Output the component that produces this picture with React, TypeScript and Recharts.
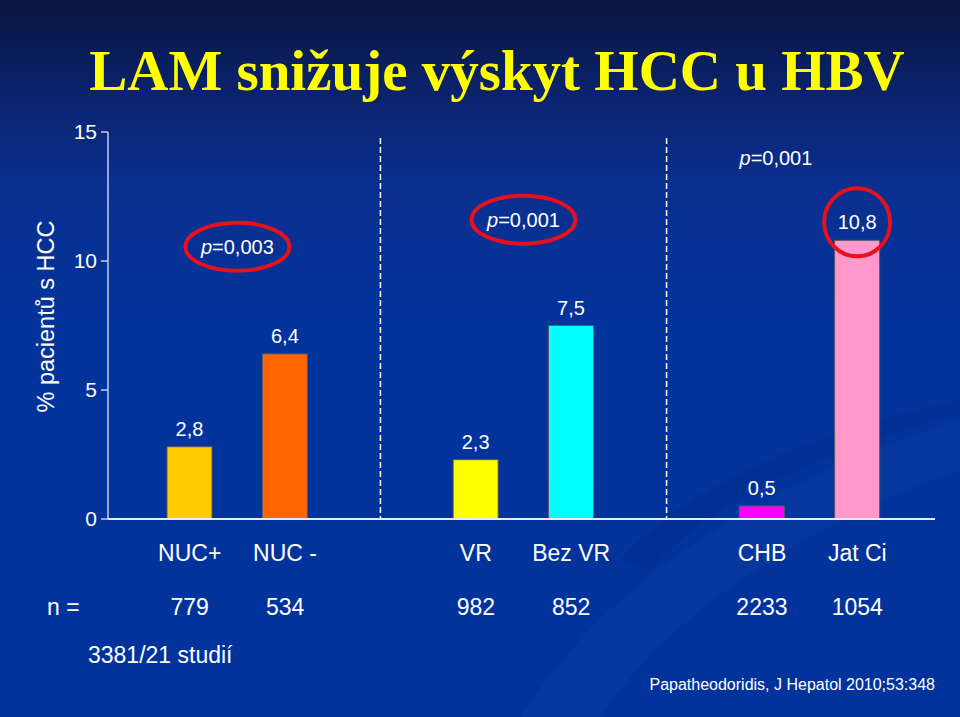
import React from "react";
import { BarChart, Bar, XAxis, YAxis, Cell, LabelList, ReferenceLine, ReferenceArea } from "recharts";

const categories = ["NUC+", "NUC -", "VR", "Bez VR", "CHB", "Jat Ci"];
const incidence = [2.8, 6.4, 2.3, 7.5, 0.5, 10.8];
const patients = [779, 534, 982, 852, 2233, 1054];
const barColors = ["#ffcc00", "#ff6600", "#ffff00", "#00ffff", "#ff00ff", "#ff99cc"];
const circledValue = [false, false, false, false, false, true];
const groups = [[0, 1], [2, 3], [4, 5]];
const yTicks = [0, 5, 10, 15];
const pValues = [
  { from: "NUC+", to: "NUC -", y: 10.55, text: "=0,003", ring: true },
  { from: "VR", to: "Bez VR", y: 11.6, text: "=0,001", ring: true },
  { from: "CHB", to: "CHB", y: 14.0, text: "=0,001", ring: false },
];

type Row = { name: string; value: number | null; n: number | null; color: string; circled: boolean; gap: boolean };
const data: Row[] = [];
groups.forEach((g, gi) => {
  if (gi > 0) data.push({ name: "gap" + gi, value: null, n: null, color: "none", circled: false, gap: true });
  g.forEach((i) =>
    data.push({ name: categories[i], value: incidence[i], n: patients[i], color: barColors[i], circled: circledValue[i], gap: false })
  );
});

const SANS = "'Liberation Sans', Arial, sans-serif";
const fmt = (v: number) => String(v).replace(".", ",");

const CatTick = (props: any) => {
  const { x, y, payload } = props;
  const row = data.find((d) => d.name === payload.value);
  if (!row || row.gap) return <g />;
  return (
    <g>
      <text x={x} y={y + 42} textAnchor="middle" fill="#ffffff" fontSize={23} fontFamily={SANS}>
        {row.name}
      </text>
      <text x={x} y={y + 96} textAnchor="middle" fill="#ffffff" fontSize={23} fontFamily={SANS}>
        {row.n}
      </text>
    </g>
  );
};

const ValTick = (props: any) => {
  const { x, y, payload } = props;
  return (
    <text x={x} y={y} dy={7} textAnchor="end" fill="#ffffff" fontSize={21} fontFamily={SANS}>
      {payload.value}
    </text>
  );
};

const ValueLabel = (props: any) => {
  const { x, y, width, value } = props;
  const row = data.find((d) => d.value === value);
  const cx = x + width / 2;
  return (
    <g>
      <text x={cx} y={y - 11} textAnchor="middle" fill="#ffffff" fontSize={20} fontFamily={SANS}>
        {fmt(value)}
      </text>
      {row && row.circled ? (
        <ellipse cx={cx} cy={y - 18} rx={33} ry={34} fill="none" stroke="#e8101c" strokeWidth={4} />
      ) : null}
    </g>
  );
};

const PShape = (ann: any) => (props: any) => {
  const { x, y, width, height } = props;
  const cx = x + width / 2 + (ann.ring ? 0 : 14);
  const cy = y + height / 2;
  return (
    <g>
      {ann.ring ? <ellipse cx={cx} cy={cy} rx={52} ry={24} fill="none" stroke="#e8101c" strokeWidth={4} /> : null}
      <text x={cx} y={cy + 7} textAnchor="middle" fill="#ffffff" fontSize={20} fontFamily={SANS}>
        <tspan fontStyle="italic">p</tspan>
        {ann.text}
      </text>
    </g>
  );
};

const YLabel = (props: any) => {
  const { viewBox } = props;
  const cx = viewBox.x + 46;
  const cy = viewBox.y + viewBox.height / 2 - 9;
  return (
    <text x={cx} y={cy} transform={`rotate(-90, ${cx}, ${cy})`} textAnchor="middle" dominantBaseline="central" fill="#ffffff" fontSize={23.5} fontFamily={SANS}>
      % pacientů s HCC
    </text>
  );
};

export default function App() {
  return (
    <div
      style={{
        position: "absolute",
        left: 0,
        top: 0,
        width: 960,
        height: 717,
        overflow: "hidden",
        background: "linear-gradient(180deg, #0a1540 0%, #0b2470 14%, #0a2f8f 26%, #03349b 45%, #01339c 100%)",
      }}
    >
      <svg width={960} height={717} style={{ position: "absolute", left: 0, top: 0 }}>
        <path d="M 520 717 C 620 560, 800 470, 960 420 L 960 470 C 820 520, 680 600, 600 717 Z" fill="#ffffff" opacity={0.02} />
        <path d="M 620 560 C 700 470, 860 420, 960 400 L 960 415 C 860 440, 720 490, 650 570 Z" fill="#001a66" opacity={0.12} />
      </svg>
      <div
        style={{
          position: "absolute",
          left: 0,
          top: 38,
          width: 994,
          textAlign: "center",
          color: "#ffff00",
          fontFamily: "'Liberation Serif', 'Times New Roman', serif",
          fontWeight: "bold",
          fontSize: 57,
          lineHeight: "66px",
          whiteSpace: "nowrap",
        }}
      >
        LAM snižuje výskyt HCC u HBV
      </div>
      <div style={{ position: "absolute", left: 0, top: 0 }}>
        <BarChart width={960} height={717} data={data} margin={{ top: 132, right: 25, bottom: 0, left: 0 }}>
          <YAxis
            domain={[0, 15]}
            ticks={yTicks}
            width={108}
            tickSize={7}
            tickMargin={4}
            axisLine={{ stroke: "#c4cdec", strokeWidth: 1.5 }}
            tickLine={{ stroke: "#c4cdec", strokeWidth: 1.5 }}
            tick={<ValTick />}
            label={<YLabel />}
          />
          <XAxis
            dataKey="name"
            interval={0}
            height={198}
            tickSize={0}
            tickMargin={0}
            tickLine={false}
            padding={{ left: 34, right: 30 }}
            axisLine={{ stroke: "#e8ecff", strokeWidth: 2 }}
            tick={<CatTick />}
          />
          {["gap1", "gap2"].map((g) => (
            <ReferenceLine
              key={g}
              segment={[{ x: g, y: 14.77 }, { x: g, y: 0 }]}
              stroke="#ffffff"
              strokeWidth={1.5}
              strokeDasharray="6 3"
            />
          ))}
          {pValues.map((a, i) => (
            <ReferenceArea
              key={i}
              x1={a.from}
              x2={a.to}
              y1={a.y - 0.3}
              y2={a.y + 0.3}
              fill="none"
              stroke="none"
              shape={PShape(a)}
            />
          ))}
          <Bar dataKey="value" barSize={45} isAnimationActive={false} stroke="#5a5a6a" strokeWidth={1}>
            {data.map((d, i) => (
              <Cell key={i} fill={d.color} />
            ))}
            <LabelList dataKey="value" content={<ValueLabel />} />
          </Bar>
        </BarChart>
      </div>
      <div style={{ position: "absolute", left: 47, top: 593, color: "#fff", fontFamily: SANS, fontSize: 23, lineHeight: "28px" }}>n =</div>
      <div style={{ position: "absolute", left: 88, top: 641, color: "#fff", fontFamily: SANS, fontSize: 23, lineHeight: "28px" }}>3381/21 studií</div>
      <div style={{ position: "absolute", right: 25, top: 675, color: "#fff", fontFamily: SANS, fontSize: 16, lineHeight: "20px", whiteSpace: "nowrap" }}>
        Papatheodoridis, J Hepatol 2010;53:348
      </div>
    </div>
  );
}
